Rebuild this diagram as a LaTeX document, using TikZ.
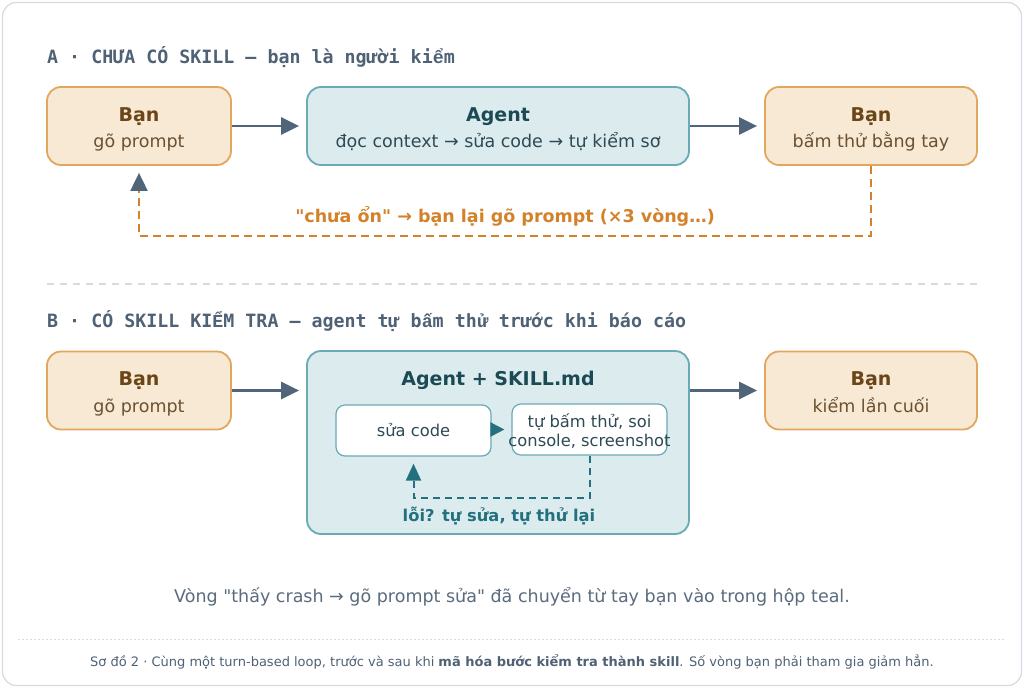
\documentclass[tikz,border=0pt]{standalone}
\usepackage{fontspec}
\setmainfont{DejaVu Sans}[Ligatures=TeXOff]
\setmonofont{DejaVu Sans Mono}[Ligatures=TeXOff]
\newfontfamily\vnmono{Liberation Mono}[Ligatures=TeXOff]
\newcommand{\vm}[1]{{\vnmono #1}}
\usetikzlibrary{arrows.meta}
\definecolor{frameC}{HTML}{D5DBE2}
\definecolor{orFill}{HTML}{F8E9D4}
\definecolor{orLine}{HTML}{E2A75E}
\definecolor{brownT}{HTML}{6A4518}
\definecolor{brownS}{HTML}{6B5130}
\definecolor{tlFill}{HTML}{DCEBEE}
\definecolor{tlLine}{HTML}{6AAAB6}
\definecolor{tlTitle}{HTML}{1C4A54}
\definecolor{tlSub}{HTML}{2E4A54}
\definecolor{slate}{HTML}{50657A}
\definecolor{orDash}{HTML}{D4822A}
\definecolor{tlDash}{HTML}{23717E}
\definecolor{headC}{HTML}{4F6275}
\definecolor{capC}{HTML}{5A6C7E}
\definecolor{sepC}{HTML}{D3DBE3}
\begin{document}
\begin{tikzpicture}[x=1pt,y=-1pt,
  youbox/.style={draw=orLine,fill=orFill,line width=1.8pt,rounded corners=14pt,
    minimum height=78pt,inner sep=0pt},
  agbox/.style={draw=tlLine,fill=tlFill,line width=1.8pt,rounded corners=14pt,
    minimum width=382pt,inner sep=0pt},
  ttl/.style={anchor=base,inner sep=0pt,font=\bfseries\fontsize{19}{22}\selectfont},
  sub/.style={anchor=base,inner sep=0pt,font=\fontsize{17.5}{20}\selectfont},
  inbox/.style={draw=tlLine,fill=white,line width=1.2pt,rounded corners=9pt,
    minimum width=155pt,minimum height=51pt,align=center,inner sep=0pt,
    font=\fontsize{16.3}{19}\selectfont,text=tlSub},
  arr/.style={draw=slate,line width=2.4pt,-{Triangle[length=18pt,width=17pt]},shorten >=7pt},
  head/.style={anchor=base west,font=\ttfamily\bfseries\fontsize{18.3}{20}\selectfont,text=headC,inner sep=0pt},
]
\useasboundingbox (0,0) rectangle (1024,688);
\fill[white] (0,0) rectangle (1024,688);
\draw[frameC,line width=1.2pt,rounded corners=14pt] (2.5,2.5) rectangle (1021.5,685.5);

% ---- Section A
\node[head] (hA) at (47,63) {A · CHƯA CÓ SKILL — bạn là người ki\vm{ể}m};
\node[youbox,minimum width=184pt] (a1) at (139,126) {};
\node[ttl,text=brownT] (a1t) at ([yshift=-35pt]a1.north) {Bạn};
\node[sub,text=brownS] (a1s) at ([yshift=-61.5pt]a1.north) {gõ prompt};
\node[agbox,minimum height=78pt] (a2) at (498,126) {};
\node[ttl,text=tlTitle] (a2t) at ([yshift=-35pt]a2.north) {Agent};
\node[sub,text=tlSub] (a2s) at ([yshift=-61.5pt]a2.north) {đọc context → sửa code → tự kiểm sơ};
\node[youbox,minimum width=212pt] (a3) at (871,126) {};
\node[ttl,text=brownT] (a3t) at ([yshift=-35pt]a3.north) {Bạn};
\node[sub,text=brownS] (a3s) at ([yshift=-61.5pt]a3.north) {bấm thử bằng tay};
\draw[arr] (a1.east) -- (a2.west);
\draw[arr] (a2.east) -- (a3.west);
\draw[orDash,line width=2pt,dash pattern=on 8pt off 5pt,shorten >=7pt,
  -{Triangle[length=18pt,width=17pt,color=slate,fill=slate]}]
  (a3.south) -- ++(0,70) -| (a1.south);
\node[font=\bfseries\fontsize{17.5}{20}\selectfont,text=orDash,anchor=base] (la) at (505,222)
  {"chưa ổn" → bạn lại gõ prompt (×3 vòng…)};

% separator
\draw[sepC,line width=1.5pt,dash pattern=on 7pt off 6pt] (47,284) -- (977,284);

% ---- Section B
\node[head] (hB) at (47,327) {B · CÓ SKILL KI\vm{Ể}M TRA — agent tự b\vm{ấ}m th\vm{ử} trước khi báo cáo};
\node[youbox,minimum width=184pt] (b1) at (139,390.5) {};
\node[ttl,text=brownT] (b1t) at ([yshift=-35pt]b1.north) {Bạn};
\node[sub,text=brownS] (b1s) at ([yshift=-61.5pt]b1.north) {gõ prompt};
\node[agbox,minimum height=183pt] (b2) at (498,442.5) {};
\node[ttl,text=tlTitle] (b2t) at (498,385) {Agent + SKILL.md};
\node[youbox,minimum width=212pt] (b3) at (871,390.5) {};
\node[ttl,text=brownT] (b3t) at ([yshift=-35pt]b3.north) {Bạn};
\node[sub,text=brownS] (b3s) at ([yshift=-61.5pt]b3.north) {kiểm lần cuối};
\draw[arr] (b1.east) -- (b1.east -| b2.west);
\draw[arr] (b3.west -| b2.east) -- (b3.west);
\node[inbox] (fix) at (413.5,430.5) {sửa code};
\node[inbox] (test) at (589.5,429.5) {};
\node[font=\fontsize{16.3}{19}\selectfont,text=tlSub,align=center,inner sep=0pt,anchor=base] (testt) at (589.5,446.5)
  {tự bấm thử, soi\\console, screenshot};
\draw[tlDash,line width=2pt,-{Triangle[length=14pt,width=14pt]},shorten >=7pt] (fix.east |- test.west) -- (test.west);
\draw[tlDash,line width=2pt,dash pattern=on 7pt off 5pt,shorten >=7pt,
  -{Triangle[length=17pt,width=15pt]}]
  (test.south) -- ++(0,42) -| (fix.south);
\node[font=\bfseries\fontsize{16.3}{20}\selectfont,text=tlDash,anchor=base] (lb) at (499,521) {lỗi? tự sửa, tự thử lại};

% caption
\node[font=\fontsize{17.5}{20}\selectfont,text=capC,anchor=base] (cap) at (512,602)
  {Vòng "thấy crash → gõ prompt sửa" đã chuyển từ tay bạn vào trong hộp teal.};
\draw[sepC,line width=1pt,dash pattern=on 2pt off 2pt] (18,639.5) -- (1006,639.5);
\node[font=\fontsize{13}{15}\selectfont,text=headC,anchor=base] (foot) at (512,666)
  {Sơ đồ 2 · Cùng một turn-based loop, trước và sau khi \textbf{mã hóa bước kiểm tra thành skill}. Số vòng bạn phải tham gia giảm hẳn.};
\end{tikzpicture}
\end{document}
